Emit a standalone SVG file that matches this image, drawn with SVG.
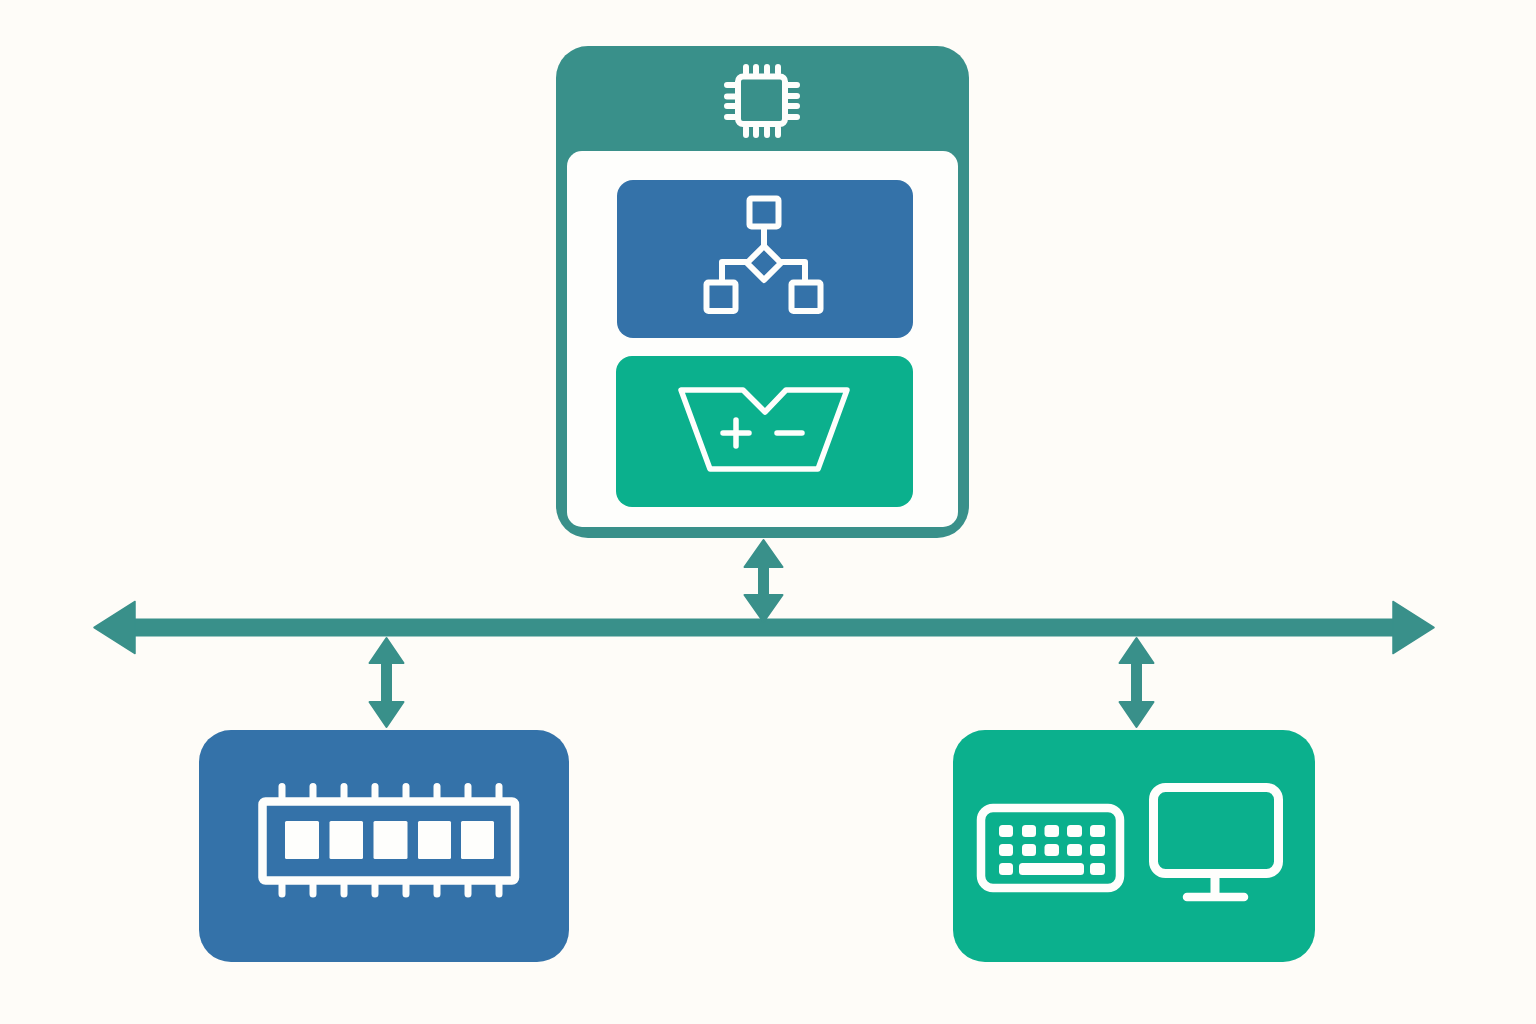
<svg xmlns="http://www.w3.org/2000/svg" width="1536" height="1024" viewBox="0 0 1536 1024">
  <style>
    .bg { fill: #fefcf8; }
    .teal { fill: #39908a; }
    .blue { fill: #3472a9; }
    .green { fill: #0bb08d; }
    .white { fill: #fefefc; }
    .ic { fill: none; stroke: #fefefc; stroke-width: 5.500; stroke-linecap: round; stroke-linejoin: round; }
    .ic8 { fill: none; stroke: #fefefc; stroke-width: 8.500; stroke-linecap: round; stroke-linejoin: round; }
    .cap { fill: #fefefc; }
    .wire { fill: none; stroke: #39908a; }
    .bus { stroke-width: 18; marker-start: url(#headBus); marker-end: url(#headBus); }
    .link { stroke-width: 11; }
    .linkA { marker-start: url(#headA); marker-end: url(#headA); }
    .linkB { marker-start: url(#headB); marker-end: url(#headB); }
  </style>
  <defs>
    <marker id="headBus" markerUnits="userSpaceOnUse" orient="auto-start-reverse" refX="0" refY="27" markerWidth="44" markerHeight="56" viewBox="0 0 44 56" overflow="visible">
      <path d="M0 1 L41 27 L0 53 Z" fill="#39908a" stroke="#39908a" stroke-width="1.500" stroke-linejoin="round"/>
    </marker>
    <marker id="headA" markerUnits="userSpaceOnUse" orient="auto-start-reverse" refX="0" refY="20" markerWidth="30" markerHeight="40" viewBox="0 0 30 40" overflow="visible">
      <path d="M0 1 L27 20 L0 39 Z" fill="#39908a" stroke="#39908a" stroke-width="2" stroke-linejoin="round"/>
    </marker>
    <marker id="headB" markerUnits="userSpaceOnUse" orient="auto-start-reverse" refX="0" refY="18" markerWidth="28" markerHeight="36" viewBox="0 0 28 36" overflow="visible">
      <path d="M0 1 L25 18 L0 35 Z" fill="#39908a" stroke="#39908a" stroke-width="2" stroke-linejoin="round"/>
    </marker>
  </defs>
  <rect class="bg" width="1536" height="1024"/>

  <g id="connectors">
    <line class="wire bus" x1="135" y1="627.500" x2="1393" y2="627.500"/>
    <line class="wire link linkA" x1="763.500" y1="567" x2="763.500" y2="595"/>
    <line class="wire link linkB" x1="386.500" y1="663" x2="386.500" y2="702"/>
    <line class="wire link linkB" x1="1136.500" y1="663" x2="1136.500" y2="702"/>
  </g>

  <g id="cpu">
    <rect class="teal" x="556" y="46" width="413" height="492" rx="32"/>
    <rect class="white" x="567" y="151" width="391" height="376" rx="15"/>
    <g id="cpu-chip" class="ic" style="stroke-width:6">
      <rect x="738" y="76.500" width="47" height="47.500" rx="5"/>
      <path d="M746 67V73M756 67V73M767 67V73M778 67V73M746 128V135M756 128V135M767 128V135M778 128V135"/>
      <path d="M727 85H735M727 96.500H735M727 106H735M727 117H735M788 85H797M788 96H797M788 106H797M788 117H797"/>
    </g>
    <g id="control-unit">
      <rect class="blue" x="617" y="180" width="296" height="158" rx="16"/>
      <g class="ic" style="stroke-width:6">
        <rect x="749.500" y="198.500" width="29" height="28" rx="2"/>
        <rect x="706.500" y="282.500" width="29" height="28.500" rx="2"/>
        <rect x="791.500" y="282.500" width="29" height="28.500" rx="2"/>
        <path d="M764 229V246"/>
        <path d="M764 246L781 263L764 280L747 263Z"/>
        <path d="M747 262H722V280M781 262H805V280"/>
      </g>
    </g>
    <g id="alu">
      <rect class="green" x="616" y="356" width="297" height="151" rx="16"/>
      <g class="ic">
        <path d="M681 390H743L765 412L786 390H847L818 469H710Z"/>
        <path d="M723 433H749M736 420V446M777 433H802"/>
      </g>
    </g>
  </g>

  <g id="memory">
    <rect class="blue" x="199" y="730" width="370" height="232" rx="32"/>
    <rect class="ic8" x="262.500" y="801.500" width="252.500" height="79" rx="3"/>
    <path class="ic" style="stroke-width:7" d="M282 786.500V797M313 786.500V797M344 786.500V797M375 786.500V797M406 786.500V797M437 786.500V797M468 786.500V797M499 786.500V797M282 885V894M313 885V894M344 885V894M375 885V894M406 885V894M437 885V894M468 885V894M499 885V894"/>
    <rect class="cap" x="285" y="821" width="34" height="38" rx="1.500"/>
    <rect class="cap" x="329.500" y="821" width="33.500" height="38" rx="1.500"/>
    <rect class="cap" x="373.500" y="821" width="34" height="38" rx="1.500"/>
    <rect class="cap" x="418" y="821" width="33" height="38" rx="1.500"/>
    <rect class="cap" x="461" y="821" width="33" height="38" rx="1.500"/>
  </g>

  <g id="io">
    <rect class="green" x="953" y="730" width="362" height="232" rx="32"/>
    <rect class="ic8" x="981" y="808" width="139" height="80" rx="12"/>
    <g class="cap">
      <rect x="999" y="825" width="14" height="12" rx="3.500"/>
      <rect x="1022" y="825" width="14" height="12" rx="3.500"/>
      <rect x="1044.500" y="825" width="14.500" height="12" rx="3.500"/>
      <rect x="1067" y="825" width="15" height="12" rx="3.500"/>
      <rect x="1090" y="825" width="15" height="12" rx="3.500"/>
      <rect x="999" y="844" width="14" height="12" rx="3.500"/>
      <rect x="1022" y="844" width="14" height="12" rx="3.500"/>
      <rect x="1044.500" y="844" width="14.500" height="12" rx="3.500"/>
      <rect x="1067" y="844" width="15" height="12" rx="3.500"/>
      <rect x="1090" y="844" width="15" height="12" rx="3.500"/>
      <rect x="999" y="863" width="14" height="12" rx="3.500"/>
      <rect x="1019" y="863" width="65" height="12" rx="3.500"/>
      <rect x="1090" y="863" width="15" height="12" rx="3.500"/>
    </g>
    <rect class="ic8" style="stroke-width:9" x="1153.500" y="787.500" width="125" height="86" rx="12"/>
    <path class="ic8" style="stroke-linecap:butt;stroke-width:9" d="M1215 878V897"/>
    <path class="ic8" d="M1187 897H1244"/>
  </g>
</svg>
